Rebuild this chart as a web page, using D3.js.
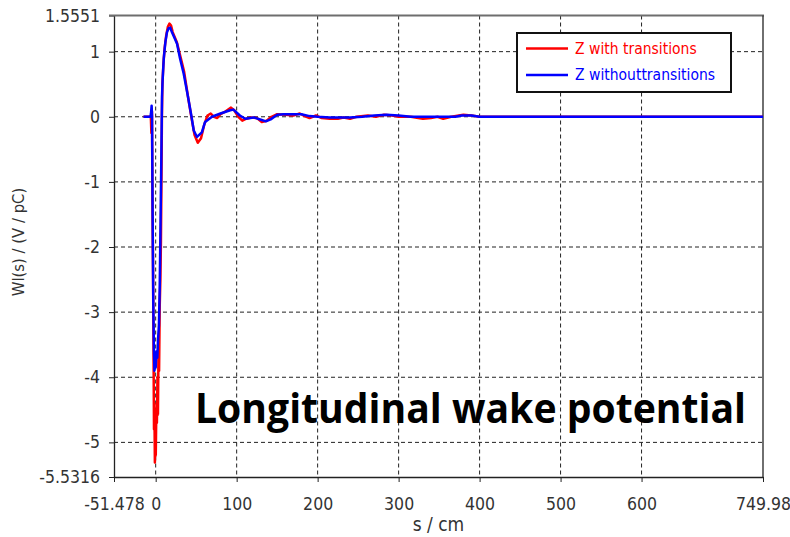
<!DOCTYPE html>
<html lang="en">
<head>
    <meta charset="UTF-8">
    <title>Longitudinal wake potential</title>
    <script src="https://d3js.org/d3.v7.min.js"></script>
    <style>
        body{
            margin: 0;
            background-color: white;
        }
        #canvas text{
            font-family: "DejaVu Sans Condensed", "DejaVu Sans", sans-serif;
            fill: #333;
        }
        .grid line{
            stroke: #222;
            stroke-width: 1px;
            stroke-dasharray: 4,3;
        }
        path.wake{
            fill: none;
            stroke-width: 2.5px;
            stroke-linejoin: round;
        }
    </style>
</head>
<body>
    <svg id='canvas' width='790' height='537'></svg>
    <script>
        // tick values and labels as shown on the chart
        let xTicks = [-51.478, 0, 100, 200, 300, 400, 500, 600, 749.98];
        let xTickLabels = ['-51.478', '0', '100', '200', '300', '400', '500', '600', '749.98'];
        let yTicks = [1.5551, 1, 0, -1, -2, -3, -4, -5, -5.5316];
        let yTickLabels = ['1.5551', '1', '0', '-1', '-2', '-3', '-4', '-5', '-5.5316'];
        let xGrid = [0, 100, 200, 300, 400, 500, 600];
        let yGrid = [1, 0, -1, -2, -3, -4, -5];

        let seriesNames = ['Z with transitions', 'Z withouttransitions'];
        let seriesColors = ['#ff0000', '#0000ff'];

        // Z with transitions : s (cm), W (V/pC)
        let sWith = [-15, -6, -5.3, -4.6, -3.9, -3.3, -2.6, -2.1, -1.6, -1.0, -0.5, 0.1, 0.8, 1.5, 2.2, 2.8, 3.5, 4.2, 5.0, 5.8, 6.5, 7.1, 7.7, 8.3, 9.5, 11, 13, 15, 17, 19, 21, 26, 30, 35, 40, 44, 48, 52, 56, 60, 64, 68, 72, 76, 80, 86, 93, 97, 102, 107, 112, 118, 125, 131, 137, 143, 150, 160, 170, 178, 184, 190, 198, 205, 215, 225, 232, 240, 248, 262, 272, 282, 292, 300, 315, 330, 340, 348, 355, 365, 380, 390, 400, 749.98];
        let wWith = [0, 0, -0.25, 0.08, -1.4, -2.3, -3.7, -4.8, -4.4, -5.31, -4.9, -5.2, -4.5, -4.7, -4.0, -4.57, -3.5, -3.9, -2.9, -2.5, -1.9, -1.0, 0.0, 0.5, 0.8, 1.05, 1.25, 1.38, 1.43, 1.4, 1.3, 1.15, 0.95, 0.7, 0.3, 0.0, -0.28, -0.4, -0.33, -0.12, 0.02, 0.05, 0.0, -0.02, 0.04, 0.08, 0.14, 0.1, 0.0, -0.06, -0.03, -0.01, -0.02, -0.08, -0.06, 0.0, 0.04, 0.03, 0.02, 0.05, 0.01, -0.02, 0.02, -0.02, -0.03, -0.03, -0.01, -0.03, 0.0, 0.02, 0.0, 0.03, 0.02, 0.0, 0.0, -0.03, -0.02, 0.0, -0.03, 0.0, 0.03, 0.02, 0.0, 0.0];

        // Z without transitions
        let sWithout = [-15, -6.5, -5.8, -5.0, -4.5, -3.8, -3.0, -2.2, -1.5, -0.8, 0, 1, 2, 3, 4, 5, 6, 7, 7.8, 8.5, 10, 12, 14, 16, 18, 20, 26.4, 30, 34.6, 40, 44, 47, 51, 57, 61, 69.5, 80, 92, 96, 104, 110.6, 121, 131, 136, 142, 150, 158, 170, 180, 190, 200, 215, 240, 255, 270, 285, 300, 315, 370, 378, 390, 400, 749.98];
        let wWithout = [0, 0, 0.05, 0.17, 0.0, -1.5, -2.8, -3.6, -3.9, -3.75, -3.85, -3.6, -3.7, -3.4, -3.2, -2.6, -1.6, -0.6, 0.3, 0.55, 0.9, 1.15, 1.3, 1.36, 1.37, 1.3, 1.12, 0.9, 0.66, 0.3, 0.02, -0.21, -0.31, -0.24, -0.08, 0.0, 0.05, 0.1, 0.11, 0.02, -0.03, -0.01, -0.05, -0.07, -0.04, 0.03, 0.04, 0.04, 0.04, 0.01, 0.0, -0.01, -0.01, 0.0, 0.02, 0.03, 0.02, 0.0, 0.0, 0.02, 0.02, 0.0, 0.0];

        let svg = d3.select('#canvas');
        let plotLeft = 114, plotRight = 763, plotTop = 15.5, plotBottom = 477;

        let x = d3.scaleLinear().domain([-51.478, 749.98]).range([plotLeft, plotRight]);
        let y = d3.scaleLinear().domain([-5.5316, 1.5551]).range([plotBottom, plotTop]);

        // grid
        let grid = svg.append('g').attr('class', 'grid');
        grid.selectAll('line.vx')
            .data(xGrid)
            .enter()
            .append('line')
            .attr('class', 'vx')
            .attr('x1', d => x(d)).attr('x2', d => x(d))
            .attr('y1', plotTop).attr('y2', plotBottom);
        grid.selectAll('line.hy')
            .data(yGrid)
            .enter()
            .append('line')
            .attr('class', 'hy')
            .attr('x1', plotLeft).attr('x2', plotRight)
            .attr('y1', d => y(d)).attr('y2', d => y(d));

        // axes
        let xAxis = d3.axisBottom(x)
            .tickValues(xTicks)
            .tickFormat((d, i) => xTickLabels[i])
            .tickSize(5)
            .tickSizeOuter(0)
            .tickPadding(16);
        let yAxis = d3.axisLeft(y)
            .tickValues(yTicks)
            .tickFormat((d, i) => yTickLabels[i])
            .tickSize(5)
            .tickSizeOuter(0)
            .tickPadding(9);

        let gx = svg.append('g')
            .attr('transform', 'translate(0,' + plotBottom + ')')
            .call(xAxis);
        let gy = svg.append('g')
            .attr('transform', 'translate(' + plotLeft + ',0)')
            .call(yAxis);
        [gx, gy].forEach(function(g){
            g.selectAll('text')
                .style('font-size', '17.5px');
            g.selectAll('line').attr('stroke', '#222');
            g.select('.domain').attr('stroke', '#222').attr('stroke-width', 1.3);
        });

        // frame top and right
        svg.append('line')
            .attr('x1', plotLeft - 5).attr('x2', plotRight + 1)
            .attr('y1', plotTop).attr('y2', plotTop)
            .attr('stroke', '#6e6e6e')
            .attr('stroke-width', 2);
        svg.append('line')
            .attr('x1', plotRight).attr('x2', plotRight)
            .attr('y1', plotTop).attr('y2', plotBottom)
            .attr('stroke', '#222')
            .attr('stroke-width', 1.3);

        // curves
        let line = d3.line()
            .x(d => x(d[0]))
            .y(d => y(d[1]));
        let curves = [
            d3.zip(sWith, wWith),
            d3.zip(sWithout, wWithout)
        ];
        svg.append('g')
            .selectAll('path')
            .data(curves)
            .enter()
            .append('path')
            .attr('class', 'wake')
            .attr('stroke', (d, i) => seriesColors[i])
            .attr('d', line);

        // axis labels
        svg.append('text')
            .attr('x', (plotLeft + plotRight) / 2)
            .attr('y', 531)
            .attr('text-anchor', 'middle')
            .style('font-size', '19px')
            .text('s / cm');
        svg.append('text')
            .attr('transform', 'translate(24,242) rotate(-90)')
            .attr('text-anchor', 'middle')
            .style('font-size', '16.5px')
            .text('Wl(s) / (V / pC)');

        // legend
        let legend = svg.append('g');
        legend.append('rect')
            .attr('x', 517).attr('y', 33)
            .attr('width', 214).attr('height', 59)
            .attr('fill', 'white')
            .attr('stroke', '#111')
            .attr('stroke-width', 2);
        let items = legend.selectAll('g.item')
            .data(seriesNames)
            .enter()
            .append('g')
            .attr('class', 'item')
            .attr('transform', (d, i) => 'translate(0,' + (48.5 + i * 26.5) + ')');
        items.append('line')
            .attr('x1', 526).attr('x2', 568)
            .attr('stroke', (d, i) => seriesColors[i])
            .attr('stroke-width', 2.5);
        items.append('text')
            .attr('x', 575)
            .attr('dy', '0.35em')
            .style('font-size', '15.5px')
            .style('fill', (d, i) => seriesColors[i])
            .text(d => d);

        // overlay title
        svg.append('text')
            .attr('x', 195)
            .attr('y', 423)
            .attr('textLength', 551)
            .attr('lengthAdjust', 'spacingAndGlyphs')
            .style('font-family', '"Open Sans", sans-serif')
            .style('font-weight', 'bold')
            .style('font-size', '41px')
            .style('fill', '#000')
            .text('Longitudinal wake potential');
    </script>
</body>
</html>
